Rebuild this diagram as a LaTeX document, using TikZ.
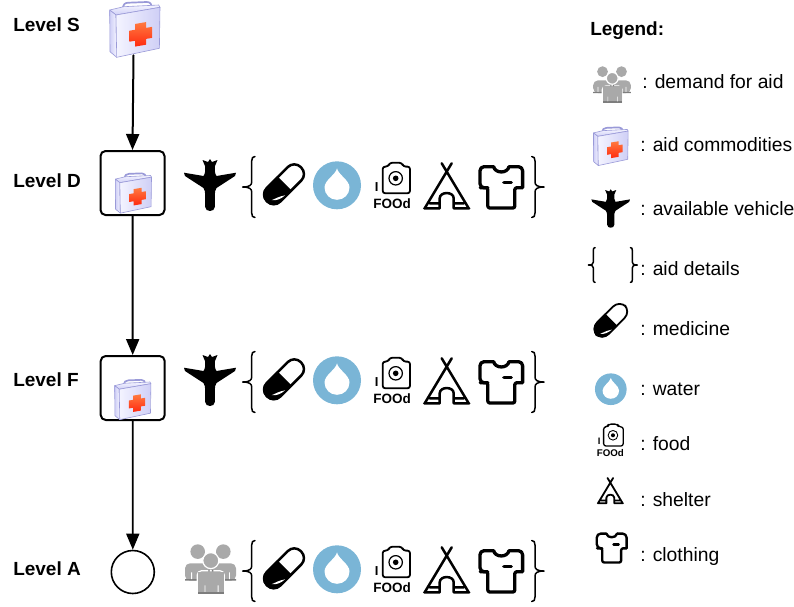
\documentclass[tikz,border=0pt]{standalone}
\usepackage{fontspec}
\setmainfont{Liberation Sans}
\usetikzlibrary{arrows.meta,calc,positioning}
\definecolor{kitline}{HTML}{9A9AD8}
\definecolor{kitpale}{HTML}{F4F4FF}
\definecolor{kitmid}{HTML}{CFCFF6}
\definecolor{crossa}{HTML}{FF2A10}
\definecolor{crossb}{HTML}{FF7A40}
\definecolor{waterblue}{HTML}{7AB5D6}
\definecolor{crowd}{HTML}{A9A9A9}
\definecolor{crowddark}{HTML}{7D7D7D}
\tikzset{
levelname/.style={anchor=base west,inner sep=0,font=\fontsize{19}{23}\selectfont\bfseries},
legendtxt/.style={anchor=base west,inner sep=0,font=\fontsize{19.3}{23}\selectfont},
roundbox/.style={draw,line width=2pt,rounded corners=5pt,minimum size=64pt,inner sep=0},
flow/.style={-{Triangle[length=16pt,width=13pt]},line width=2pt},
kit/.pic={
\draw[kitline,line width=1.7pt] (-12,-19) .. controls (-12,-26) and (-10,-27.3) .. (-6,-27.3)--(12,-28) .. controls (16,-28) and (17,-26) .. (17,-21);
\shade[top color=kitpale,bottom color=kitmid,draw=kitline,line width=.6pt] (-25,-20)--(-11,-23.3)--(24,-25)--(25.3,-22.7)--(-18.7,-15)--cycle;
\shade[left color=kitmid,right color=kitpale,draw=kitline,line width=.6pt] (-25,-20)--(-18.7,-15)--(-18,27.3)--(-24.7,21.7)--cycle;
\shade[left color=kitpale,right color=kitmid,draw=kitline,line width=.6pt] (-18.7,-15)--(25.3,-22.7)--(24.7,18.3)--(-18,27.3)--cycle;
\begin{scope}[shift={(6,4.3)},yslant=.17]
\shade[top color=crossb,bottom color=crossa] (-5.5,-11.3)--(5.5,-11.3)--(5.5,-5.5)--(11.3,-5.5)--(11.3,5.5)--(5.5,5.5)--(5.5,11.3)--(-5.5,11.3)--(-5.5,5.5)--(-11.3,5.5)--(-11.3,-5.5)--(-5.5,-5.5)--cycle;
\end{scope}
},
plane/.pic={
\fill (0,-26)--(-2,-23)--(-7.5,-25)--(-4.8,-18.5)--(-5,-13) .. controls (-5.2,-11) and (-5.8,-10) .. (-6.5,-9)--(-26,-12.3)--(-25,-9)--(-6.5,3) .. controls (-5.2,5) and (-4.8,7) .. (-4.8,10)--(-4.8,22) .. controls (-4.8,27.3) and (4.8,27.3) .. (4.8,22)--(4.8,10) .. controls (4.8,7) and (5.2,5) .. (6.5,3)--(25,-9)--(26,-12.3)--(6.5,-9) .. controls (5.8,-10) and (5.2,-11) .. (5,-13)--(4.8,-18.5)--(7.5,-25)--(2,-23)--cycle;
},
curly/.pic={
\draw[line width=1.5pt] (3.3,-30.5) .. controls (1,-30.5) and (0,-29) .. (0,-26)--(0,-5) .. controls (0,-2) and (-2,0) .. (-9,0) .. controls (-2,0) and (0,2) .. (0,5)--(0,26) .. controls (0,29) and (1,30.5) .. (3.3,30.5);
},
pill/.pic={
\begin{scope}[rotate=45]
\draw[rounded corners=9pt,fill=white] (-24,-9.5) rectangle (24,9.5);
\fill (1,-10.5) [rounded corners=10pt]--(-25,-10.5)--(-25,10.5) [sharp corners]--(1,10.5)--cycle;
\fill[white] (-20,2.5) .. controls (-17,6.5) and (-12,8.2) .. (-7,8.6) .. controls (-12,5) and (-16,4.2) .. (-20,2.5)--cycle;
\end{scope}
},
drop/.pic={
\fill[waterblue] (0,0) circle (24);
\fill[white] (0,-17) .. controls (1,-11) and (12.5,-5) .. (12.5,2) .. controls (12.5,9) and (7,14.5) .. (0,14.5) .. controls (-7,14.5) and (-12.5,9) .. (-12.5,2) .. controls (-12.5,-5) and (-1,-11) .. (0,-17)--cycle;
},
foodcam/.pic={
\draw[line width=.85\pgflinewidth,rounded corners=2.5pt] (-9.3,-18.7)--(-3.7,-18.7)--(-2.5,-22.5)--(10,-22.5)--(11.3,-18.7)--(18,-18.7)--(18,8)--(-9.3,8)--cycle;
\draw[line width=.7\pgflinewidth] (3.7,-7) circle (6.7);
\fill (3.7,-7) circle (2.8);
\node[transform shape,inner sep=0,font=\fontsize{13}{13}\selectfont\bfseries] (bar) at (-15.3,2) {I};
\node[transform shape,inner sep=0,font=\fontsize{13.5}{13.5}\selectfont\bfseries] (word) at (0,18) {FOOd};
},
tent/.pic={
\draw (-5,-25)--(22,20) (5,-25)--(-22,20) (-22.5,20)--(-7,20)--(-7,10) .. controls (-7,3) and (7,3) .. (7,10)--(7,20)--(22.5,20) (-17,15)--(-7,15) (7,15)--(17,15);
},
shirt/.pic={
\draw[line width=1.15\pgflinewidth,rounded corners=4pt] (-7.7,-21)--(-21.3,-21)--(-21.3,0)--(-13.5,0);
\draw[line width=1.15\pgflinewidth,rounded corners=4pt] (21.3,0)--(21.3,-21)--(7.7,-21);
\draw[line width=1.15\pgflinewidth,rounded corners=2pt] (-21,0)--(-13.5,0)--(-13.5,20.3)--(13.5,20.3)--(13.5,0)--(21,0);
\draw[line width=1.15\pgflinewidth] (-7.7,-21) .. controls (-6,-14) and (6,-14) .. (7.7,-21);
\draw[line width=1.15\pgflinewidth] (2.5,-5.3)--(10,-5.3);
},
folk/.pic={
\fill[crowd] (-12.8,-16.7) circle (7.3) (12.8,-16.7) circle (7.3);
\fill[crowd,rounded corners=5pt] (-25.5,-5)--(0,-5)--(0,12.3)--(-25.5,12.3)--cycle;
\fill[crowd,rounded corners=5pt] (0,-5)--(25.5,-5)--(25.5,12.3)--(0,12.3)--cycle;
\fill[crowddark] (-25.5,10.8) rectangle (-13,12.3) (13,10.8) rectangle (25.5,12.3);
\fill[white] (-19.3,4) rectangle (-18.5,10.8) (18.5,4) rectangle (19.3,10.8);
\draw[white,line width=1.2pt,fill=crowd] (.3,-7.7) circle (8);
\draw[white,line width=1.2pt,fill=crowd,rounded corners=4pt] (-13.2,25.5)--(-13.2,2.5)--(13.7,2.5)--(13.7,25.5);
\fill[crowd] (-12.5,3.3) rectangle (13,25.3);
\fill[crowddark] (-12.5,23.6) rectangle (13,25.3);
\fill[white] (-6,17) rectangle (-5.2,23.6) (7.2,17) rectangle (8,23.6);
\fill[crowddark] (-2.2,1.6) rectangle (-.8,3.2) (1.4,1.6) rectangle (2.8,3.2);
},
}
\begin{document}
\begin{tikzpicture}[x=1pt,y=-1pt,line join=round,line cap=round,line width=2.5pt]
\useasboundingbox (0,0) rectangle (794,606);
\node[inner sep=0,minimum width=50pt,minimum height=50pt] (kitS) at (133.5,29) {};
\node[roundbox] (boxD) at (132.5,183) {};
\node[roundbox] (boxF) at (132.7,388) {};
\node[circle,draw,line width=1.6pt,minimum size=43pt,inner sep=0] (demandA) at (132.8,572) {};
\draw[flow] (kitS.south)--(boxD.north);
\draw[flow] (boxD.south)--(boxF.north);
\draw[flow,line width=1.6pt] (boxF.south)--(demandA.north);
\pic (kitTop) at (134.7,30) {kit};
\pic[scale=.72] (kitD) at (133.3,193.5) {kit};
\pic[scale=.72] (kitF) at (132.7,400) {kit};
\node[levelname] (levS) at (12,31) {Level S};
\node[levelname] (levD) at (12,187) {Level D};
\node[levelname] (levF) at (12,386) {Level F};
\node[levelname] (levA) at (12,575) {Level A};
\pic (planeD) at (210,185) {plane};
\pic (planeF) at (210,380) {plane};
\pic (folkA) at (210.5,568.3) {folk};
\foreach \r/\yy in {D/187,F/382,A/571}{
\begin{scope}[shift={(0,\yy)}]
\pic (openr\r) at (251.7,0) {curly};
\pic (pill\r) at (284,-2.7) {pill};
\pic (drop\r) at (337,-1.7) {drop};
\pic (food\r) at (392,-1.7) {foodcam};
\pic (tent\r) at (446.7,1.3) {tent};
\pic (shirt\r) at (501.3,.7) {shirt};
\pic[xscale=-1] (close\r) at (535,0) {curly};
\end{scope}
}
\node[levelname] (legend) at (589,35) {Legend:};
\begin{scope}[line width=1.8pt]
\pic[scale=.74] (legFolk) at (612,84) {folk};
\pic[scale=.69] (legKit) at (610.7,146.7) {kit};
\pic[scale=.74] (legPlane) at (610.7,208.5) {plane};
\pic[xscale=.55,yscale=.57] (legOpen) at (593.3,265) {curly};
\pic[xscale=-.55,yscale=.57] (legClose) at (632.3,265) {curly};
\pic[scale=.85] (legPill) at (610.8,320.3) {pill};
\pic[scale=.66] (legDrop) at (610.8,389.2) {drop};
\pic[scale=.72] (legFood) at (610.3,440.3) {foodcam};
\pic[scale=.56] (legTent) at (610.3,492) {tent};
\pic[scale=.7] (legShirt) at (611.7,548.3) {shirt};
\end{scope}
\foreach \n/\x/\yy/\t in {a/641/88/demand for aid,b/639/151.7/aid commodities,c/639/215/available vehicle,d/639/275/aid details,e/639/335/medicine,f/639/395.7/water,g/639/450.7/food,h/639/506/shelter,i/639/561.7/clothing}{
\node[legendtxt] (txt\n) at (\x,\yy) {: \t};
}
\end{tikzpicture}
\end{document}
